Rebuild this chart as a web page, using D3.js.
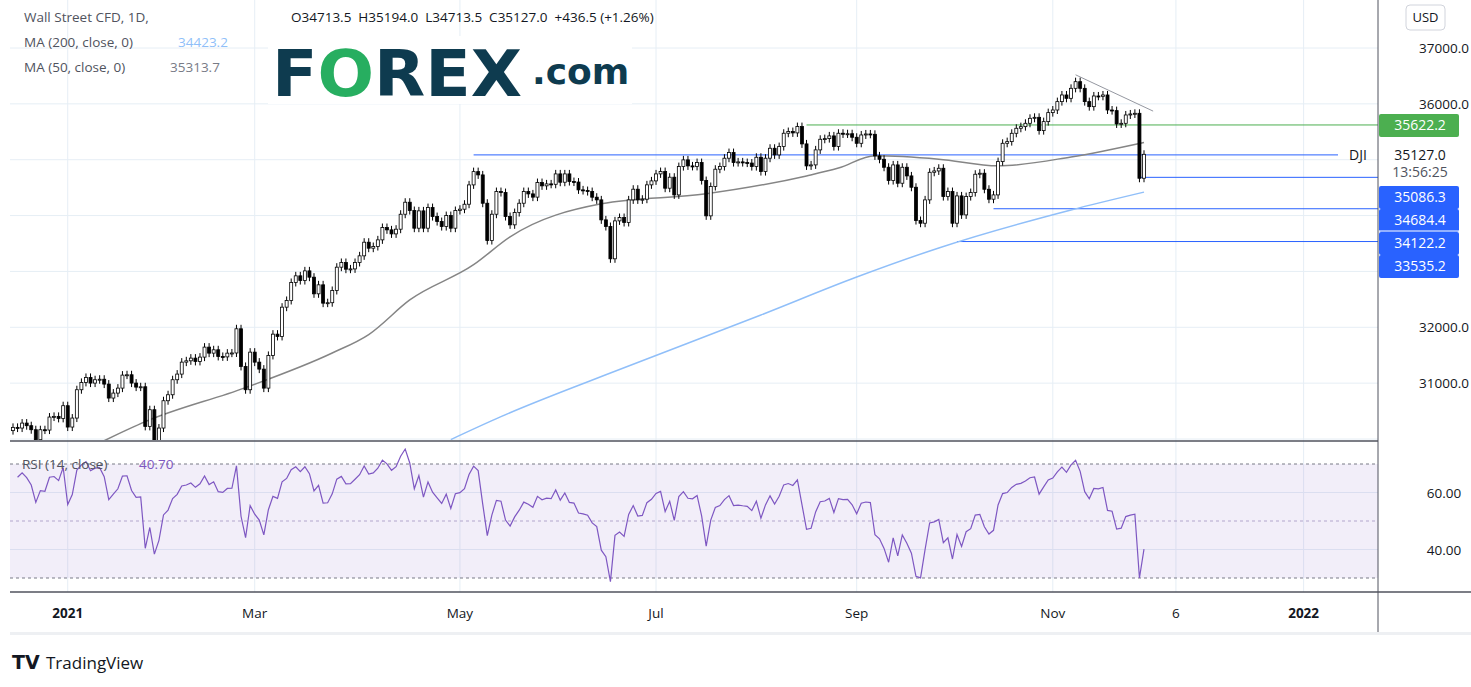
<!DOCTYPE html>
<html><head><meta charset="utf-8">
<script src="https://cdn.jsdelivr.net/npm/d3@7"></script>
<style>body{margin:0;background:#fff;font-family:"Open Sans",Roboto,sans-serif}</style>
</head><body><div class="chart"></div>
<script>
// daily closes, Dec 16 2020 .. Nov 29 2021 (weekdays)
const closes = [30208,30196,30285,30238,30166,29987,30166,30160,30393,30405,30369,30596,30214,30375,30882,31013,31102,31001,31061,31070,
30983,30733,30822,30911,31144,31150,31001,30929,30935,30226,30524,29975,30196,30685,30792,31061,31162,31376,31400,31448,
31389,31466,31645,31537,31597,31478,31470,31537,31540,31973,31299,30882,31555,31376,31251,30911,31496,31877,31836,32360,
32480,32802,32921,32837,33010,32897,32599,32760,32432,32440,32659,33076,33160,33040,33045,33160,33279,33523,33416,33446,
33565,33786,33744,33672,33756,34024,34239,34090,33774,34084,33774,34143,33982,33893,33803,34000,33774,34090,34114,34203,
34549,34787,34728,34221,33553,34024,34430,34412,33983,33834,34054,34221,34430,34388,34330,34591,34532,34567,34560,34746,
34597,34746,34609,34600,34460,34448,34430,34329,34281,33923,33804,33226,33905,33965,33876,34281,34472,34281,34293,34550,
34621,34746,34788,34490,34687,34370,34877,34997,34889,34880,34949,34627,33995,34520,34830,34877,35027,35128,34949,34961,
34949,34940,34877,35044,34788,35027,35205,35086,35235,35474,35504,35480,35593,35283,34889,34907,35176,35366,35378,35426,
35235,35474,35461,35465,35402,35294,35443,35461,35455,35068,35008,34865,34627,34907,34579,34865,34710,34507,33911,33863,
34281,34775,34799,34847,34340,34430,33863,34352,34012,34340,34412,34740,34758,34471,34293,34370,34966,35294,35324,35473,
35563,35592,35652,35741,35759,35521,35682,35843,35890,36040,36159,36099,36278,36397,36278,36040,35950,36141,36135,36159,
35890,35879,35640,35652,35801,35819,35831,34668,35097]
const firstOpen = 30150

// moving averages: [bar index, value]
const ma50 = [[20,29970],[29,30310],[51,30920],[70,31540],[78,31870],[87,32490],[101,33120],[109,33620],[129,34210],
  [152,34390],[174,34710],[181,34850],[189,35070],[203,35010],[216,34890],[232,35050],[248,35310]]
const ma200 = [[96,29990],[107,30400],[130,31150],[164,32220],[185,32900],[203,33420],[232,34100],[248,34420]]

// horizontal levels: [value, from bar, colour]
const levels = [[35622.2,174,'#4caf50'],[35086.3,101,'#2962ff'],[34684.4,247,'#2962ff'],[34122.2,215,'#2962ff'],[33535.2,207,'#2962ff']]
const trend = [[233,36520],[250,35870]]

const priceTicks = [31000,32000,36000,37000]
const gridTicks = [30000,31000,32000,33000,34000,35000,36000,37000]
const monthTicks = [['2021','2021-01-01'],['Mar','2021-03-01'],['May','2021-05-03'],['Jul','2021-07-01'],['Sep','2021-09-01'],['Nov','2021-11-01'],['6','2021-12-06'],['2022','2022-01-03']]

// weekday dates for the bars
const dates = []
for (let d = new Date(2020,11,16); dates.length < closes.length; d.setDate(d.getDate()+1)) {
  if (d.getDay() != 0 && d.getDay() != 6) dates.push(new Date(d))
}
function idxOf(s) {
  const t = new Date(s + 'T00:00:00')
  const i = dates.findIndex(d => d >= t)
  if (i >= 0) return i
  return dates.length - 1 + Math.round((t - dates[dates.length-1]) / 864e5)
}

const W = 1471, H = 687
const svg = d3.select('.chart').append('svg').attr('width', W).attr('height', H)
const x = d3.scaleLinear().domain([0, 248]).range([13, 1144])
const y = d3.scaleLinear().domain([30000, 37000]).range([439, 48])
const yr = d3.scaleLinear().domain([30, 70]).range([578, 464])
const grid = '#e6eef5'

svg.append('clipPath').attr('id','pc').append('rect').attr('x',10).attr('y',0).attr('width',1368).attr('height',440)

// grid
monthTicks.forEach(t => {
  svg.append('line').attr('x1', x(idxOf(t[1]))).attr('x2', x(idxOf(t[1]))).attr('y1',0).attr('y2',592).attr('stroke',grid)
})
svg.selectAll('.hg').data(gridTicks).enter().append('line')
  .attr('x1',10).attr('x2',1378).attr('y1',d=>y(d)).attr('y2',d=>y(d)).attr('stroke',grid)
;[40,60].forEach(v => svg.append('line').attr('x1',10).attr('x2',1378).attr('y1',yr(v)).attr('y2',yr(v)).attr('stroke',grid))

// RSI band
svg.append('rect').attr('x',10).attr('width',1368).attr('y',yr(70)).attr('height',yr(30)-yr(70)).attr('fill','rgba(126,87,194,0.1)')
;[70,50,30].forEach(v => svg.append('line').attr('x1',10).attr('x2',1378).attr('y1',yr(v)).attr('y2',yr(v))
  .attr('stroke', v==50 ? '#b2a6cc' : '#787b86').attr('stroke-dasharray','3,3'))

const pane = svg.append('g').attr('clip-path','url(#pc)')

// levels
levels.forEach(l => pane.append('line').attr('x1', x(l[1])).attr('x2', l[1]==101 ? 1338 : 1378)
  .attr('y1', y(l[0])).attr('y2', y(l[0])).attr('stroke', l[2]).attr('stroke-width',1))
pane.append('line').attr('x1',x(trend[0][0])).attr('y1',y(trend[0][1])).attr('x2',x(trend[1][0])).attr('y2',y(trend[1][1])).attr('stroke','#9598a1')

// moving averages
const ln = d3.line().x(d => x(d[0])).y(d => y(d[1])).curve(d3.curveMonotoneX)
pane.append('path').attr('d', ln(ma200)).attr('fill','none').attr('stroke','#90bff9').attr('stroke-width',1.5)
pane.append('path').attr('d', ln(ma50)).attr('fill','none').attr('stroke','#858585').attr('stroke-width',1.5)

// candles
const bars = closes.map((c,i) => ({i, o: i ? closes[i-1] : firstOpen, c}))
const cg = pane.selectAll('.c').data(bars).enter().append('g')
cg.append('line').attr('x1',d=>x(d.i)).attr('x2',d=>x(d.i))
  .attr('y1',d=>y(Math.max(d.o,d.c))-4).attr('y2',d=>y(Math.min(d.o,d.c))+4).attr('stroke','#000')
cg.append('rect').attr('x',d=>x(d.i)-1.5).attr('width',3)
  .attr('y',d=>y(Math.max(d.o,d.c))).attr('height',d=>Math.max(1, Math.abs(y(d.o)-y(d.c))))
  .attr('fill',d=>d.c>=d.o ? '#fff' : '#000').attr('stroke','#000').attr('stroke-width',0.8)

// RSI(14) from closes, seeded with the average of the first 14 changes
const chg = closes.slice(1).map((c,i) => c - closes[i])
let ag = d3.mean(chg.slice(0,14), c => Math.max(c,0))
let al = d3.mean(chg.slice(0,14), c => Math.max(-c,0))
const rsi = []
chg.forEach((ch,k) => {
  ag = (ag*13 + Math.max(ch,0))/14
  al = (al*13 + Math.max(-ch,0))/14
  rsi.push([k+1, 100 - 100/(1 + ag/al)])
})
svg.append('path').attr('d', d3.line().x(d=>x(d[0])).y(d=>yr(d[1]))(rsi)).attr('fill','none').attr('stroke','#7e57c2').attr('stroke-width',1.2)

// frame
svg.append('line').attr('x1',1378).attr('x2',1378).attr('y1',0).attr('y2',632).attr('stroke','#50535e')
svg.append('line').attr('x1',10).attr('x2',1378).attr('y1',441).attr('y2',441).attr('stroke','#50535e').attr('stroke-width',1.5)
svg.append('line').attr('x1',10).attr('x2',1471).attr('y1',592).attr('y2',592).attr('stroke','#50535e').attr('stroke-width',1.5)
svg.append('rect').attr('x',10).attr('y',632).attr('width',1461).attr('height',3).attr('fill','#eef0f3')

const txt = (xx,yy,s,o={}) => svg.append('text').attr('x',xx).attr('y',yy).text(s)
  .attr('font-size',o.size||13).attr('fill',o.fill||'#131722').attr('text-anchor',o.anchor||'start')
  .attr('font-weight',o.weight||'normal').attr('font-family',o.family||'"Open Sans",sans-serif')

// axes labels
priceTicks.forEach(v => txt(1444, y(v)+5, v.toFixed(1), {anchor:'middle', size:13.5, fill:'#131722'}))
txt(1444, yr(60)+5, '60.00', {anchor:'middle', size:13.5})
txt(1444, yr(40)+5, '40.00', {anchor:'middle', size:13.5})
monthTicks.forEach(t => txt(x(idxOf(t[1])), 618, t[0], {anchor:'middle', size:13.5, weight: (t[0]=='2021'||t[0]=='2022') ? 'bold':'normal'}))

svg.append('rect').attr('x',1406).attr('y',5).attr('width',39).attr('height',25).attr('rx',4).attr('fill','#fff').attr('stroke','#d1d4dc')
txt(1425.5, 22, 'USD', {anchor:'middle', size:13})

// price labels on the axis
const tags = [[35622.2,125,'#4caf50'],[35086.3,197,'#2962ff'],[34684.4,220,'#2962ff'],[34122.2,243,'#2962ff'],[33535.2,266,'#2962ff']]
tags.forEach(t => {
  svg.append('rect').attr('x',1379).attr('y',t[1]-11).attr('width',80).attr('height',23).attr('fill',t[2]).attr('rx',2)
  txt(1420, t[1]+5, t[0].toFixed(1), {anchor:'middle', size:14, fill:'#fff'})
})
svg.append('line').attr('x1',1379).attr('x2',1459).attr('y1',231).attr('y2',231).attr('stroke','#fff')
txt(1358, 160, 'DJI', {anchor:'middle', size:14, fill:'#131722'})
txt(1420, 160, '35127.0', {anchor:'middle', size:14})
txt(1420, 177, '13:56:25', {anchor:'middle', size:14, fill:'#50535e'})

// legend
txt(24, 22, 'Wall Street CFD, 1D,', {size:13.5, fill:'#50535e'})
txt(291, 22, 'O34713.5  H35194.0  L34713.5  C35127.0  +436.5 (+1.26%)', {size:13.5, fill:'#131722'}).attr('xml:space','preserve')
txt(24, 47, 'MA (200, close, 0)', {size:13.5, fill:'#50535e'})
txt(178, 47, '34423.2', {size:13.5, fill:'#90bff9'})
txt(24, 72, 'MA (50, close, 0)', {size:13.5, fill:'#50535e'})
txt(170, 72, '35313.7', {size:13.5, fill:'#787b86'})
txt(22, 469, 'RSI (14, close)', {size:13.5, fill:'#50535e'})
txt(139, 469, '40.70', {size:13.5, fill:'#7e57c2'})

// logo
svg.append('rect').attr('x',268).attr('y',36).attr('width',364).attr('height',68).attr('fill','#fff')
const logo = svg.append('text').attr('x',272).attr('y',96).attr('font-family','"DejaVu Sans",sans-serif')
  .attr('font-weight','bold').attr('font-size',64).attr('fill','#0e3b4f').attr('textLength',250).attr('lengthAdjust','spacingAndGlyphs')
logo.append('tspan').text('F')
logo.append('tspan').text('O').attr('fill','#27ae60')
logo.append('tspan').text('REX')
txt(532, 84, '.com', {size:36, weight:'bold', fill:'#0e3b4f', family:'"DejaVu Sans",sans-serif'})

// footer
txt(12, 669, 'TV', {size:19, weight:'bold', fill:'#131722', family:'"DejaVu Sans",sans-serif'})
txt(46, 669, 'TradingView', {size:17, fill:'#131722'})
</script></body></html>
